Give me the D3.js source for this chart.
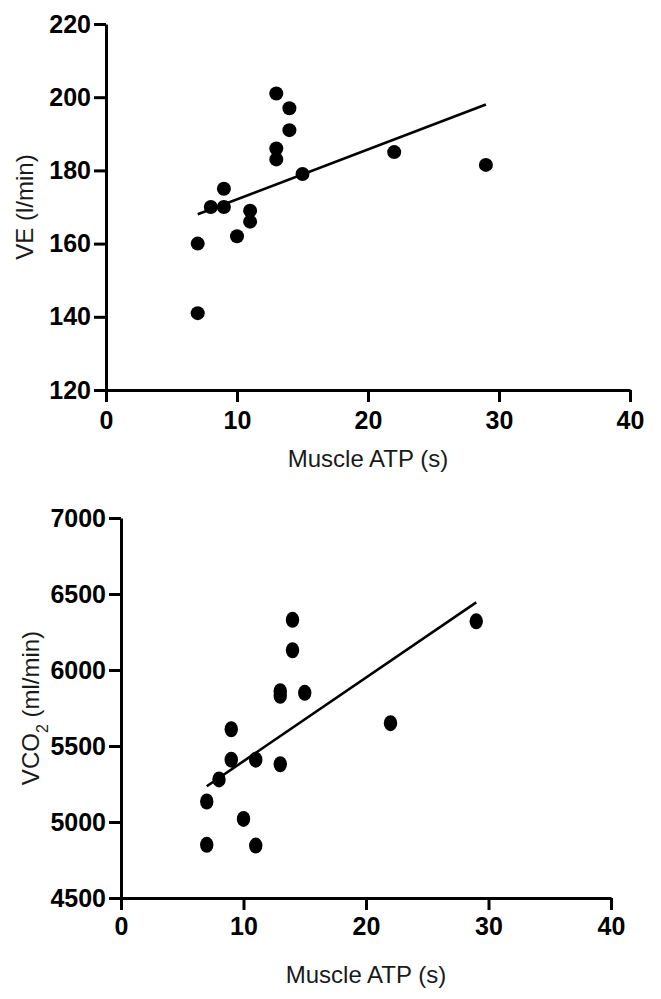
<!DOCTYPE html>
<html>
<head>
<meta charset="utf-8">
<script src="https://cdn.jsdelivr.net/npm/d3@7"></script>
<style>
  html, body { margin: 0; padding: 0; background: #fff; }
  svg { display: block; }
  .tick text { font-family: "Liberation Sans", Arial, sans-serif; font-weight: bold; fill: #000; }
  .title { font-family: "Liberation Sans", Arial, sans-serif; fill: #1a1a1a; }
</style>
</head>
<body>
<svg id="chart" width="661" height="999"></svg>
<script>
// ---- Data ----
const atpTop = [7, 7, 8, 9, 9, 10, 11, 11, 13, 13, 13, 14, 14, 15, 22, 29];
const veValues = [160, 141, 170, 170, 175, 162, 169, 166, 201, 186, 183, 197, 191, 179, 185, 181.5];
const veFitX = [7, 29];
const veFitY = [168, 198];

const atpBottom = [7, 7, 8, 9, 9, 10, 11, 11, 13, 13, 13, 14, 14, 15, 22, 29];
const vco2Values = [5135, 4850, 5280, 5610, 5410, 5020, 5410, 4845, 5860, 5830, 5380, 6330, 6130, 5850, 5650, 6320];
const vco2FitX = [7, 29];
const vco2FitY = [5235, 6445];

const xTicks = [0, 10, 20, 30, 40];
const veTicks = [120, 140, 160, 180, 200, 220];
const vco2Ticks = [4500, 5000, 5500, 6000, 6500, 7000];

const svg = d3.select("#chart");

function panel(cfg) {
  const g = svg.append("g");
  const x = d3.scaleLinear().domain([0, 40]).range([cfg.x0, cfg.x1]);
  const y = d3.scaleLinear().domain(cfg.yDomain).range([cfg.y0, cfg.y1]);

  // fit line
  g.append("path")
    .datum(cfg.fitX.map((d, i) => [d, cfg.fitY[i]]))
    .attr("fill", "none")
    .attr("stroke", "#000")
    .attr("stroke-width", 2.6)
    .attr("d", d3.line().x(d => x(d[0])).y(d => y(d[1])));

  // points
  g.selectAll("ellipse.pt")
    .data(cfg.xs.map((d, i) => [d, cfg.ys[i]]))
    .join("ellipse")
    .attr("class", "pt")
    .attr("cx", d => x(d[0]))
    .attr("cy", d => y(d[1]))
    .attr("rx", cfg.rx)
    .attr("ry", cfg.ry)
    .attr("fill", "#000");

  // axes
  const fmt = d3.format("d");
  const xAxis = g.append("g")
    .attr("transform", `translate(0,${cfg.y0})`)
    .call(d3.axisBottom(x).tickValues(xTicks).tickFormat(fmt).tickSize(12).tickSizeOuter(0).tickPadding(cfg.xPad));
  const yAxis = g.append("g")
    .attr("transform", `translate(${cfg.x0},0)`)
    .call(d3.axisLeft(y).tickValues(cfg.yTicks).tickFormat(fmt).tickSize(12).tickSizeOuter(0).tickPadding(3));
  [xAxis, yAxis].forEach(a => {
    a.select(".domain").attr("stroke", "#000").attr("stroke-width", 3);
    a.selectAll(".tick line").attr("stroke", "#000").attr("stroke-width", 3);
    a.selectAll(".tick text").style("font-size", "25px");
  });

  // x title
  g.append("text")
    .attr("class", "title")
    .attr("x", (cfg.x0 + cfg.x1) / 2)
    .attr("y", cfg.xTitleY)
    .attr("text-anchor", "middle")
    .style("font-size", "24px")
    .text("Muscle ATP (s)");

  // y title
  const yt = g.append("text")
    .attr("class", "title")
    .attr("transform", `translate(${cfg.yTitleX},${(cfg.y0 + cfg.y1) / 2}) rotate(-90)`)
    .attr("text-anchor", "middle")
    .attr("dy", "0.35em")
    .style("font-size", "24px");
  cfg.yTitle(yt);
}

panel({
  x0: 106, x1: 630, y0: 390, y1: 24,
  yDomain: [120, 220], yTicks: veTicks,
  xs: atpTop, ys: veValues, fitX: veFitX, fitY: veFitY,
  rx: 7, ry: 7, xPad: 9, xTitleY: 467, yTitleX: 25,
  yTitle: t => t.text("VE (l/min)")
});

panel({
  x0: 121, x1: 611, y0: 898, y1: 518,
  yDomain: [4500, 7000], yTicks: vco2Ticks,
  xs: atpBottom, ys: vco2Values, fitX: vco2FitX, fitY: vco2FitY,
  rx: 6.7, ry: 8, xPad: 7, xTitleY: 983, yTitleX: 31,
  yTitle: t => {
    t.append("tspan").text("VCO");
    t.append("tspan").attr("baseline-shift", "sub").style("font-size", "16px").text("2");
    t.append("tspan").text(" (ml/min)");
  }
});
</script>
</body>
</html>
